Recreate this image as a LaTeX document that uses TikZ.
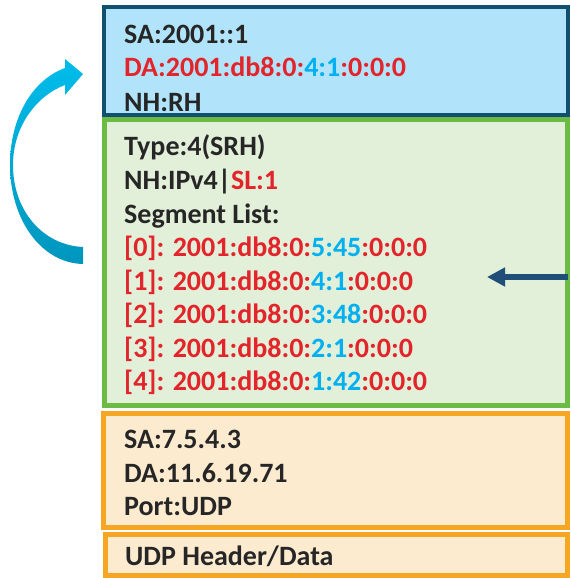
\documentclass[tikz,border=0pt]{standalone}
\usepackage{fontspec}
\setmainfont{Carlito}
\usepackage{tikz}
\usetikzlibrary{arrows.meta}

\definecolor{hdrblue}{HTML}{12506F}
\definecolor{hdrfill}{HTML}{B1E4FA}
\definecolor{srhgreen}{HTML}{6CBB45}
\definecolor{srhfill}{HTML}{E2EFD9}
\definecolor{v4orange}{HTML}{F6A623}
\definecolor{v4fill}{HTML}{FDEBD0}
\definecolor{txtdark}{HTML}{262626}
\definecolor{txtred}{HTML}{E3242B}
\definecolor{txtblue}{HTML}{00B0F0}
\definecolor{ptrblue}{HTML}{1F4E79}
\definecolor{loopcyan}{HTML}{00BCEB}
\definecolor{loopdeep}{HTML}{0096BD}

\newcommand{\rd}[1]{\textcolor{txtred}{#1}}
\newcommand{\bl}[1]{\textcolor{txtblue}{#1}}

\tikzset{
    line/.style={anchor=base west, inner sep=0pt, text=txtdark,
        font=\fontsize{28}{33}\selectfont\bfseries},
    hdrbox/.style={draw=hdrblue, fill=hdrfill, line width=4pt},
    srhbox/.style={draw=srhgreen, fill=srhfill, line width=5pt},
    v4box/.style={draw=v4orange, fill=v4fill, line width=5pt},
}

\begin{document}
\begin{tikzpicture}[x=1pt, y=-1pt]
    \useasboundingbox (0,0) rectangle (570,578);

    % packet layers
    \draw[v4box] (105.5,534.5) rectangle (567.5,575.5);
    \draw[v4box] (103.5,413.5) rectangle (567.5,527.5);
    \draw[srhbox] (104.5,119.5) rectangle (567.5,405.5);
    \draw[hdrbox] (104,7) rectangle (568,115);

    % outer IPv6 header
    \node[line] (sa6) at (124,44) {SA:2001::1};
    \node[line] (da6) at (124,77) {\rd{DA:2001:db8:0:\bl{4:1}:0:0:0}};
    \node[line] (nh6) at (124,111) {NH:RH};

    % routing header
    \node[line] (srhtype) at (124,155) {Type:4(SRH)};
    \node[line] (srhnh) at (124,189) {NH:IPv4|\rd{SL:1}};
    \node[line] (seglist) at (124,223) {Segment List:};
    \node[line] (seg0) at (124,256) {\rd{[0]: 2001:db8:0:\bl{5:45}:0:0:0}};
    \node[line] (seg1) at (124,290) {\rd{[1]: 2001:db8:0:\bl{4:1}:0:0:0}};
    \node[line] (seg2) at (124,323) {\rd{[2]: 2001:db8:0:\bl{3:48}:0:0:0}};
    \node[line] (seg3) at (124,357) {\rd{[3]: 2001:db8:0:\bl{2:1}:0:0:0}};
    \node[line] (seg4) at (124,390) {\rd{[4]: 2001:db8:0:\bl{1:42}:0:0:0}};

    % inner IPv4 header and payload
    \node[line] (sa4) at (124,448) {SA:7.5.4.3};
    \node[line] (da4) at (124,482) {DA:11.6.19.71};
    \node[line] (port4) at (124,515) {Port:UDP};
    \node[line] (udp) at (125,565) {UDP Header/Data};

    % SL pointer
    \coordinate (ptrstart) at (568,277);
    \coordinate (ptrend) at (487,277);
    \draw[ptrblue, line width=6pt, -{Triangle[length=18pt,width=18pt]}] (ptrstart) -- (ptrend);

    % copy of active segment into DA
    \shade[top color=loopcyan, bottom color=loopdeep]
        (83,247) -- (83,264)
        .. controls (40,263) and (10,218) .. (10,165)
        .. controls (10,118) and (32,80) .. (65,68)
        -- (65,59) -- (83,74) -- (65,95) -- (65,85)
        .. controls (38,95) and (13,125) .. (13,165)
        .. controls (13,210) and (42,245) .. (83,247) -- cycle;
\end{tikzpicture}
\end{document}
